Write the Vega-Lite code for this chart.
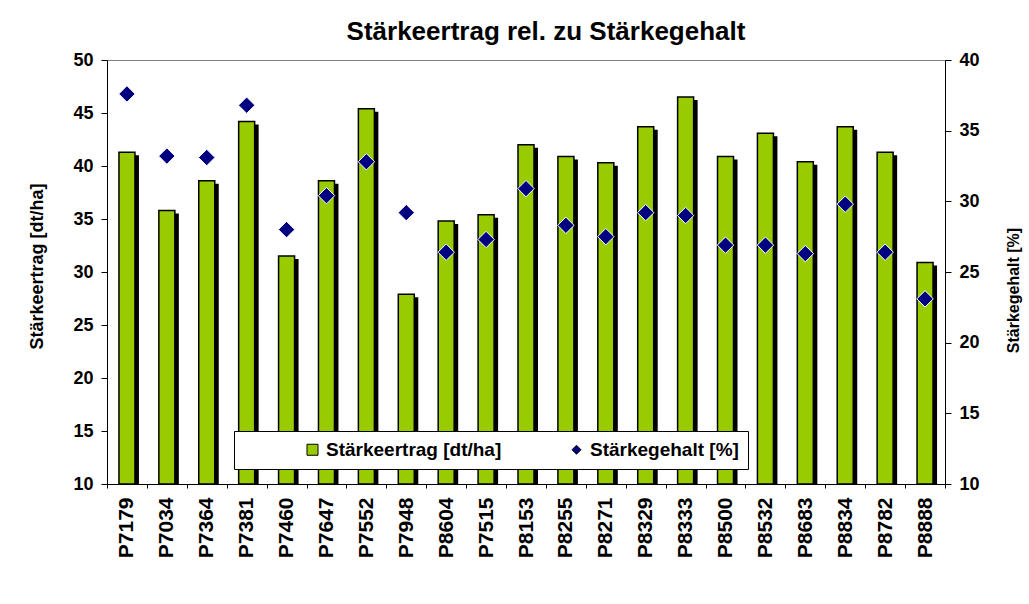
{
  "$schema": "https://vega.github.io/schema/vega-lite/v6.json",
  "width": 838,
  "height": 424,
  "autosize": {"type": "none"},
  "padding": {"left": 107, "top": 60, "right": 84, "bottom": 120},
  "background": "white",
  "config": {
    "font": "Liberation Sans",
    "view": {"stroke": "#808080", "strokeWidth": 1},
    "axis": {
      "domainColor": "black",
      "tickColor": "black",
      "labelColor": "black",
      "titleColor": "black",
      "labelFont": "Liberation Sans",
      "titleFont": "Liberation Sans",
      "labelFontWeight": "bold",
      "titleFontWeight": "bold",
      "grid": false
    },
    "legend": {
      "orient": "none",
      "legendX": 127,
      "legendY": 371,
      "direction": "horizontal",
      "fillColor": "white",
      "strokeColor": "black",
      "strokeWidth": 1,
      "padding": 9,
      "labelFont": "Liberation Sans",
      "labelFontSize": 19,
      "labelFontWeight": "bold",
      "labelColor": "black",
      "labelLimit": 600,
      "labelOffset": 4,
      "symbolSize": 121,
      "symbolStrokeColor": "black",
      "symbolStrokeWidth": 1,
      "columnPadding": 5,
      "symbolOffset": 60
    }
  },
  "title": {
    "text": "Stärkeertrag rel. zu Stärkegehalt",
    "fontSize": 26,
    "fontWeight": "bold",
    "font": "Liberation Sans",
    "color": "black",
    "anchor": "middle",
    "frame": "group",
    "dx": 20,
    "offset": 6
  },
  "data": {
    "values": [
      {"sorte": "P7179", "ertrag": 41.3, "gehalt": 37.6},
      {"sorte": "P7034", "ertrag": 35.8, "gehalt": 33.2},
      {"sorte": "P7364", "ertrag": 38.6, "gehalt": 33.1},
      {"sorte": "P7381", "ertrag": 44.2, "gehalt": 36.8},
      {"sorte": "P7460", "ertrag": 31.5, "gehalt": 28.0},
      {"sorte": "P7647", "ertrag": 38.6, "gehalt": 30.4},
      {"sorte": "P7552", "ertrag": 45.4, "gehalt": 32.8},
      {"sorte": "P7948", "ertrag": 27.9, "gehalt": 29.2},
      {"sorte": "P8604", "ertrag": 34.8, "gehalt": 26.4},
      {"sorte": "P7515", "ertrag": 35.4, "gehalt": 27.3},
      {"sorte": "P8153", "ertrag": 42.0, "gehalt": 30.9},
      {"sorte": "P8255", "ertrag": 40.9, "gehalt": 28.3},
      {"sorte": "P8271", "ertrag": 40.3, "gehalt": 27.5},
      {"sorte": "P8329", "ertrag": 43.7, "gehalt": 29.2},
      {"sorte": "P8333", "ertrag": 46.5, "gehalt": 29.0},
      {"sorte": "P8500", "ertrag": 40.9, "gehalt": 26.9},
      {"sorte": "P8532", "ertrag": 43.1, "gehalt": 26.9},
      {"sorte": "P8683", "ertrag": 40.4, "gehalt": 26.3},
      {"sorte": "P8834", "ertrag": 43.7, "gehalt": 29.8},
      {"sorte": "P8782", "ertrag": 41.3, "gehalt": 26.4},
      {"sorte": "P8888", "ertrag": 30.9, "gehalt": 23.1}
    ]
  },
  "encoding": {
    "x": {
      "field": "sorte",
      "type": "nominal",
      "sort": null,
      "scale": {"paddingInner": 0, "paddingOuter": 0},
      "axis": {
        "title": null,
        "labelAngle": -90,
        "labelFontSize": 21,
        "labelPadding": 9,
        "tickSize": 4,
        "tickBand": "extent",
        "labelBound": false,
        "labelOverlap": false
      }
    }
  },
  "layer": [
    {
      "layer": [
        {
          "mark": {"type": "bar", "color": "black", "width": 16, "xOffset": 4, "yOffset": 3},
          "encoding": {
            "y": {
              "field": "ertrag",
              "type": "quantitative",
              "scale": {"domain": [10, 50], "nice": false, "zero": false},
              "axis": {
                "orient": "left",
                "title": "Stärkeertrag [dt/ha]",
                "values": [10, 15, 20, 25, 30, 35, 40, 45, 50],
                "labelFontSize": 18,
                "labelPadding": 8,
                "tickSize": 6,
                "titleFontSize": 18,
                "titlePadding": 26,
                "titleY": 206
              }
            },
            "y2": {"datum": 10}
          }
        },
        {
          "mark": {"type": "bar", "stroke": "black", "strokeWidth": 1.5, "width": 16},
          "encoding": {
            "y": {"field": "ertrag", "type": "quantitative"},
            "y2": {"datum": 10},
            "color": {
              "datum": "Stärkeertrag [dt/ha]",
              "scale": {"domain": ["Stärkeertrag [dt/ha]", "Stärkegehalt [%]"], "range": ["#99CC00", "#000080"]},
              "legend": {
                "title": null,
                "encode": {
                  "symbols": {
                    "update": {
                      "shape": {"signal": "datum.value == 'Stärkegehalt [%]' ? 'diamond' : 'square'"},
                      "size": {"signal": "datum.value == 'Stärkegehalt [%]' ? 80 : 121"}
                    }
                  },
                  "labels": {
                    "update": {
                      "fontWeight": {"value": "bold"},
                      "fontSize": {"value": 19},
                      "text": {"signal": "datum.value == 'Stärkegehalt [%]' ? datum.label + '\u00a0\u00a0\u00a0\u00a0\u00a0\u00a0\u00a0\u00a0\u00a0\u00a0' : datum.label"}
                    }
                  }
                }
              }
            }
          }
        }
      ]
    },
    {
      "mark": {"type": "point", "shape": "diamond", "filled": true, "stroke": "white", "strokeWidth": 1, "size": 270, "opacity": 1},
      "encoding": {
        "y": {
          "field": "gehalt",
          "type": "quantitative",
          "scale": {"domain": [10, 40], "nice": false, "zero": false},
          "axis": {
            "orient": "right",
            "title": "Stärkegehalt [%]",
            "values": [10, 15, 20, 25, 30, 35, 40],
            "labelFontSize": 18,
            "labelPadding": 8,
            "tickSize": 6,
            "titleFontSize": 16,
            "titlePadding": 42,
            "titleAngle": -90,
            "titleY": 230
          }
        },
        "color": {
          "datum": "Stärkegehalt [%]"
        }
      }
    }
  ],
  "resolve": {"scale": {"y": "independent"}}
}
